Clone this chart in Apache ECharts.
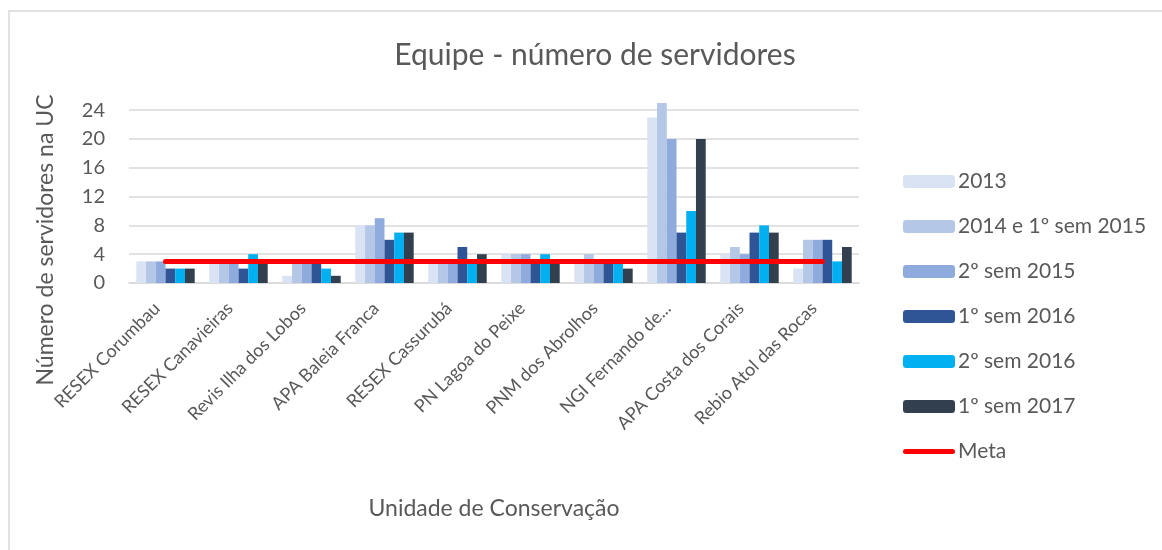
<!DOCTYPE html>
<html>
<head>
<meta charset="utf-8">
<script src="https://cdn.jsdelivr.net/npm/echarts@6/dist/echarts.min.js"></script>
<style>
  html, body { margin: 0; padding: 0; background: #fff; }
  #chart { width: 1162px; height: 550px; }
</style>
</head>
<body>
<div id="chart"></div>
<script>
// unidades de conservação (eixo x)
const categories = ['RESEX Corumbau', 'RESEX Canavieiras', 'Revis Ilha dos Lobos', 'APA Baleia Franca',
  'RESEX Cassurubá', 'PN Lagoa do Peixe', 'PNM dos Abrolhos', 'NGI Fernando de...',
  'APA Costa dos Corais', 'Rebio Atol das Rocas'];

// número de servidores por período
const s2013 = [3, 3, 1, 8, 3, 4, 3, 23, 4, 2];
const s2014 = [3, 3, 3, 8, 3, 4, 4, 25, 5, 6];
const s2sem2015 = [3, 3, 3, 9, 3, 4, 3, 20, 4, 6];
const s1sem2016 = [2, 2, 3, 6, 5, 3, 3, 7, 7, 6];
const s2sem2016 = [2, 4, 2, 7, 3, 4, 3, 10, 8, 3];
const s1sem2017 = [2, 3, 1, 7, 4, 3, 2, 20, 7, 5];
const meta = [3, 3, 3, 3, 3, 3, 3, 3, 3, 3];

const seriesNames = ['2013', '2014 e 1º sem 2015', '2º sem 2015', '1º sem 2016', '2º sem 2016', '1º sem 2017'];
const seriesData = [s2013, s2014, s2sem2015, s1sem2016, s2sem2016, s1sem2017];
const colors = ['#dae3f3', '#b4c7e7', '#8faadc', '#2f5597', '#00b0f0', '#323f4f'];

const font = 'Lato, "Open Sans", sans-serif';
const textColor = '#595959';

const chart = echarts.init(document.getElementById('chart'));

const barSeries = seriesData.map((d, i) => ({
  name: seriesNames[i],
  type: 'bar',
  data: d,
  barGap: '0%',
  barCategoryGap: '20%',
  itemStyle: { color: colors[i] }
}));

// ícone da legenda "Meta": linha grossa vermelha (caminho com margens invisíveis)
const metaIcon = 'path://M0,0L0,0M0,13L0,13M2.5,4L49.5,4A2.5,2.5,0,0,1,49.5,9L2.5,9A2.5,2.5,0,0,1,2.5,4Z';

const option = {
  animation: false,
  textStyle: { fontFamily: font, color: textColor },
  title: {
    text: 'Equipe - número de servidores',
    left: 590,
    top: 35,
    textAlign: 'center',
    textStyle: { fontFamily: font, fontSize: 30, fontWeight: 'normal', color: textColor }
  },
  graphic: [{
    type: 'rect',
    shape: { x: 9, y: 11, width: 1300, height: 700 },
    style: { fill: 'none', stroke: '#d9d9d9', lineWidth: 1.5 },
    silent: true
  }],
  legend: {
    orient: 'vertical',
    left: 898,
    top: 166,
    itemWidth: 52,
    itemHeight: 13,
    itemGap: 24,
    textStyle: { fontFamily: font, fontSize: 21, color: textColor, lineHeight: 21, padding: [0, 0, 0, -2] },
    data: seriesNames.concat([{ name: 'Meta', icon: metaIcon, itemStyle: { color: '#ff0000' } }])
  },
  grid: { left: 129, right: 303, top: 103, bottom: 267 },
  xAxis: {
    type: 'category',
    data: categories,
    name: 'Unidade de Conservação',
    nameLocation: 'middle',
    nameGap: 214,
    nameTextStyle: { fontFamily: font, fontSize: 23, color: textColor },
    axisLine: { lineStyle: { color: '#d9d9d9', width: 1.5 } },
    axisTick: { show: false },
    axisLabel: { rotate: 45, interval: 0, fontFamily: font, fontSize: 18, color: textColor, margin: 14, padding: [0, 12, 0, 0] }
  },
  yAxis: {
    type: 'value',
    min: 0,
    max: 25,
    interval: 4,
    name: 'Número de servidores na UC',
    nameLocation: 'middle',
    nameGap: 72,
    nameTextStyle: { fontFamily: font, fontSize: 23, color: textColor, padding: [0, 94, 0, 0] },
    axisLine: { show: false },
    axisTick: { show: false },
    axisLabel: { fontFamily: font, fontSize: 20, color: textColor, margin: 24, showMaxLabel: false },
    splitLine: { showMaxLine: false, lineStyle: { color: '#d9d9d9', width: 1.5 } }
  },
  series: barSeries.concat([{
    name: 'Meta',
    type: 'line',
    data: meta,
    symbol: 'none',
    z: 5,
    itemStyle: { color: '#ff0000' },
    lineStyle: { color: '#ff0000', width: 5, cap: 'round' }
  }])
};

chart.setOption(option);
</script>
</body>
</html>
